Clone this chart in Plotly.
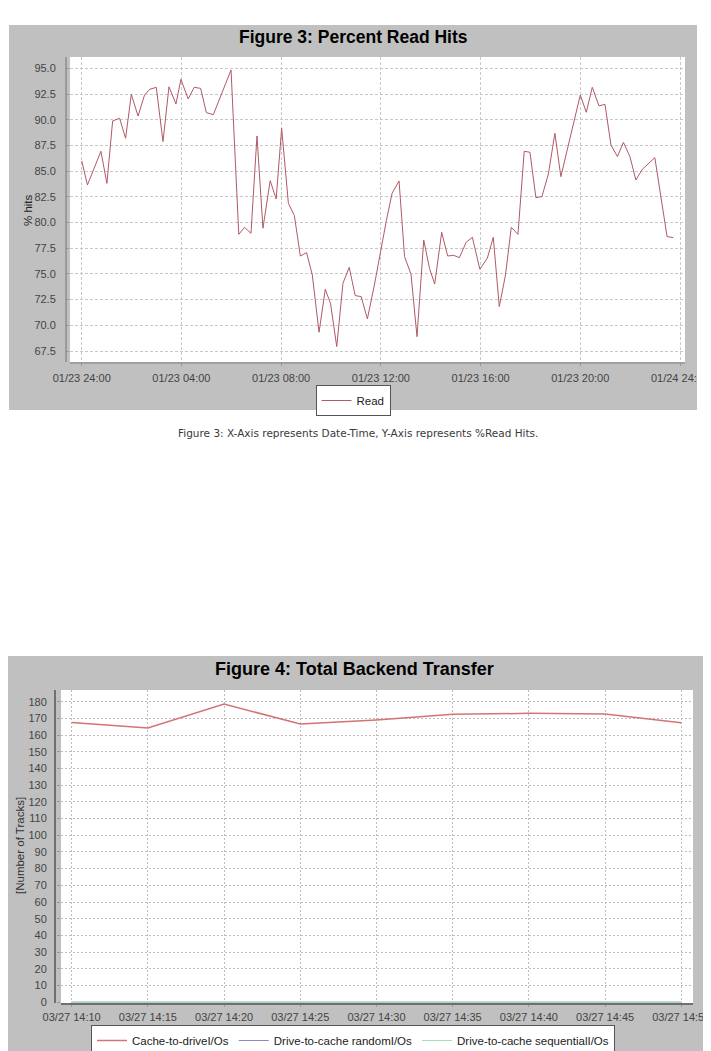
import plotly.graph_objects as go

# The page is drawn with the browser's default 8px body margin,
# so the figure is 8px smaller and page coordinates are shifted by 8.
PAGE_W, PAGE_H = 711, 1051
OFF = 8
W, H = PAGE_W - OFF, PAGE_H - OFF

# ---------------- Figure 3 data ----------------
read_hours = [0.0, 0.23, 0.77, 1.01, 1.24, 1.52, 1.76, 1.99, 2.26, 2.52,
              2.73, 2.99, 3.26, 3.5, 3.78, 3.98, 4.27, 4.51, 4.77, 5.0,
              5.28, 5.99, 6.30, 6.53, 6.79, 7.03, 7.27, 7.56, 7.80, 8.02,
              8.29, 8.53, 8.77, 9.02, 9.25, 9.52, 9.77, 9.98, 10.23, 10.48,
              10.73, 10.97, 11.21, 11.46, 11.74, 12.0, 12.22, 12.45, 12.73, 12.95,
              13.21, 13.45, 13.72, 13.95, 14.16, 14.44, 14.68, 14.92, 15.15, 15.42,
              15.67, 15.97, 16.27, 16.51, 16.75, 17.0, 17.23, 17.5, 17.75, 17.98,
              18.22, 18.46, 18.72, 18.98, 19.22, 20.0, 20.24, 20.48, 20.75, 20.99,
              21.23, 21.49, 21.73, 21.99, 22.23, 22.49, 22.76, 22.99, 23.48, 23.73]
read_pct = [86.0, 83.65, 86.93, 83.8, 89.88, 90.14, 88.19, 92.47, 90.36, 92.4,
            92.96, 93.15, 87.87, 93.2, 91.53, 93.93, 92.02, 93.15, 93.05, 90.69,
            90.49, 94.84, 78.85, 79.53, 78.95, 88.42, 79.44, 84.07, 82.29, 89.16,
            81.87, 80.67, 76.74, 77.07, 74.9, 69.32, 73.5, 72.14, 67.93, 74.09,
            75.64, 72.89, 72.79, 70.62, 73.92, 77.49, 80.18, 82.84, 84.04, 76.68,
            74.96, 68.9, 78.3, 75.54, 74.02, 79.05, 76.74, 76.81, 76.58, 78.07,
            78.56, 75.46, 76.52, 78.56, 71.82, 74.9, 79.53, 78.85, 86.93, 86.83,
            82.42, 82.52, 84.72, 88.68, 84.46, 92.41, 90.72, 93.15, 91.34, 91.5,
            87.54, 86.41, 87.8, 86.41, 84.14, 85.18, 85.76, 86.31, 78.63, 78.53]
read_tickvals = [0, 4, 8, 12, 16, 20, 24]
read_ticktext = ["01/23 24:00", "01/23 04:00", "01/23 08:00", "01/23 12:00",
                 "01/23 16:00", "01/23 20:00", "01/24 24:00"]

# ---------------- Figure 4 data ----------------
transfer_minutes = [0, 5, 10, 15, 20, 25, 30, 35, 40]
transfer_ticktext = ["03/27 14:10", "03/27 14:15", "03/27 14:20", "03/27 14:25",
                     "03/27 14:30", "03/27 14:35", "03/27 14:40", "03/27 14:45",
                     "03/27 14:50"]
cache_to_drive = [167.6, 164.2, 178.6, 166.6, 169.0, 172.4, 173.0, 172.6, 167.4]
drive_to_cache_random = [0, 0, 0, 0, 0, 0, 0, 0, 0]
drive_to_cache_seq = [0, 0, 0, 0, 0, 0, 0, 0, 0]


def fx(p):
    return (p - OFF) / W


def fy(p):
    return 1 - (p - OFF) / H


SANS = "Liberation Sans, Arial, sans-serif"
tickfont = dict(family=SANS, size=11, color="#444444")

fig = go.Figure()

fig.add_trace(go.Scatter(x=read_hours, y=read_pct, mode="lines", name="Read",
                         line=dict(color="#b05a66", width=1),
                         xaxis="x", yaxis="y", legend="legend"))

fig.add_trace(go.Scatter(x=transfer_minutes, y=drive_to_cache_random, mode="lines",
                         name="Drive-to-cache randomI/Os",
                         line=dict(color="#8a8ac8", width=1),
                         xaxis="x2", yaxis="y2", legend="legend2", legendrank=2))
fig.add_trace(go.Scatter(x=transfer_minutes, y=drive_to_cache_seq, mode="lines",
                         name="Drive-to-cache sequentialI/Os",
                         line=dict(color="#a8dcc0", width=1),
                         xaxis="x2", yaxis="y2", legend="legend2", legendrank=3))
fig.add_trace(go.Scatter(x=transfer_minutes, y=cache_to_drive, mode="lines",
                         name="Cache-to-driveI/Os",
                         line=dict(color="#d37474", width=1.5),
                         xaxis="x2", yaxis="y2", legend="legend2", legendrank=1))

grid_top = dict(showgrid=True, gridcolor="#c8c8c8", griddash="3px,2px", gridwidth=1,
                zeroline=False, showline=False, ticks="outside", ticklen=3,
                tickcolor="#999999", tickfont=tickfont, automargin=False)
grid_bot = dict(showgrid=True, gridcolor="#bdbdbd", griddash="2px,2px", gridwidth=1,
                zeroline=False, showline=False, ticks="outside", ticklen=3,
                tickcolor="#999999", tickfont=tickfont, automargin=False)

shapes = [
    # gray chart panels
    dict(type="rect", xref="paper", yref="paper", x0=fx(9), x1=fx(697), y0=fy(410), y1=fy(25),
         fillcolor="#c0c0c0", line=dict(width=0), layer="below"),
    dict(type="rect", xref="paper", yref="paper", x0=fx(0), x1=fx(708), y0=fy(1051), y1=fy(656),
         fillcolor="#c0c0c0", line=dict(width=0), layer="below"),
    # white plot areas
    dict(type="rect", xref="paper", yref="paper", x0=fx(70), x1=fx(685), y0=fy(362), y1=fy(57),
         fillcolor="white", line=dict(width=0), layer="below"),
    dict(type="rect", xref="paper", yref="paper", x0=fx(61), x1=fx(693), y0=fy(1003), y1=fy(690),
         fillcolor="white", line=dict(width=0), layer="below"),
    # axis lines (offset as in the original)
    dict(type="line", xref="paper", yref="paper", x0=fx(66), x1=fx(66), y0=fy(362), y1=fy(57),
         line=dict(color="#808080", width=1.2)),
    dict(type="line", xref="paper", yref="paper", x0=fx(70), x1=fx(685), y0=fy(363), y1=fy(363),
         line=dict(color="#808080", width=1.2)),
    dict(type="line", xref="paper", yref="paper", x0=fx(55), x1=fx(55), y0=fy(1003), y1=fy(690),
         line=dict(color="#707070", width=2)),
    dict(type="line", xref="paper", yref="paper", x0=fx(61), x1=fx(693), y0=fy(1004), y1=fy(1004),
         line=dict(color="#707070", width=2)),
    # clip the overflowing last tick labels like the original screenshot
    dict(type="rect", xref="paper", yref="paper", x0=fx(697), x1=1, y0=fy(420), y1=fy(360),
         fillcolor="white", line=dict(width=0), layer="above"),
    dict(type="rect", xref="paper", yref="paper", x0=fx(708), x1=1, y0=0, y1=fy(1005),
         fillcolor="white", line=dict(width=0), layer="above"),
]

annotations = [
    dict(text="<b>Figure 3: Percent Read Hits</b>", xref="paper", yref="paper",
         x=fx(353), y=fy(37), xanchor="center", yanchor="middle", showarrow=False,
         font=dict(family=SANS, size=17.5, color="black")),
    dict(text="% hits", xref="paper", yref="paper", x=fx(28), y=fy(210),
         xanchor="center", yanchor="middle", textangle=-90, showarrow=False,
         font=dict(family=SANS, size=11.5, color="#222222")),
    dict(text="Figure 3: X-Axis represents Date-Time, Y-Axis represents %Read Hits.",
         xref="paper", yref="paper", x=fx(358), y=fy(433), xanchor="center", yanchor="middle",
         showarrow=False, font=dict(family="DejaVu Sans", size=10.5, color="#3a3a3a")),
    dict(text="<b>Figure 4: Total Backend Transfer</b>", xref="paper", yref="paper",
         x=fx(354), y=fy(669), xanchor="center", yanchor="middle", showarrow=False,
         font=dict(family=SANS, size=18, color="black")),
    dict(text="[Number of Tracks]", xref="paper", yref="paper", x=fx(20), y=fy(846),
         xanchor="center", yanchor="middle", textangle=-90, showarrow=False,
         font=dict(family=SANS, size=11.5, color="#333333")),
]

fig.update_layout(
    width=W, height=H,
    margin=dict(l=0, r=0, t=0, b=0, autoexpand=False),
    paper_bgcolor="white",
    plot_bgcolor="rgba(0,0,0,0)",
    xaxis=dict(domain=[fx(70), fx(685)], anchor="y", range=[-0.47, 24.2],
               tickvals=read_tickvals, ticktext=read_ticktext, ticklabelstandoff=3,
               **grid_top),
    yaxis=dict(domain=[fy(362), fy(57)], anchor="x", range=[66.43, 96.1],
               dtick=2.5, tick0=0, tickformat=".1f", ticklabelstandoff=8, **grid_top),
    xaxis2=dict(domain=[fx(61), fx(693)], anchor="y2", range=[-0.7, 40.77],
                tickvals=transfer_minutes, ticktext=transfer_ticktext, ticklabelstandoff=1,
                **grid_bot),
    yaxis2=dict(domain=[fy(1003), fy(690)], anchor="x2", range=[-0.5, 187],
                dtick=10, tick0=0, ticklabelstandoff=8, **grid_bot),
    legend=dict(x=fx(353), y=fy(385), xanchor="center", yanchor="top",
                bgcolor="white", bordercolor="#555555", borderwidth=1,
                font=dict(family=SANS, size=11.5, color="#222222"),
                itemwidth=30, tracegroupgap=0),
    legend2=dict(x=fx(353), y=fy(1025), xanchor="center", yanchor="top",
                 orientation="h", bgcolor="white", bordercolor="#555555", borderwidth=1,
                 font=dict(family=SANS, size=11.5, color="#222222"),
                 itemwidth=30, traceorder="normal"),
    showlegend=True,
    shapes=shapes,
    annotations=annotations,
)

fig.write_html("out.html")
